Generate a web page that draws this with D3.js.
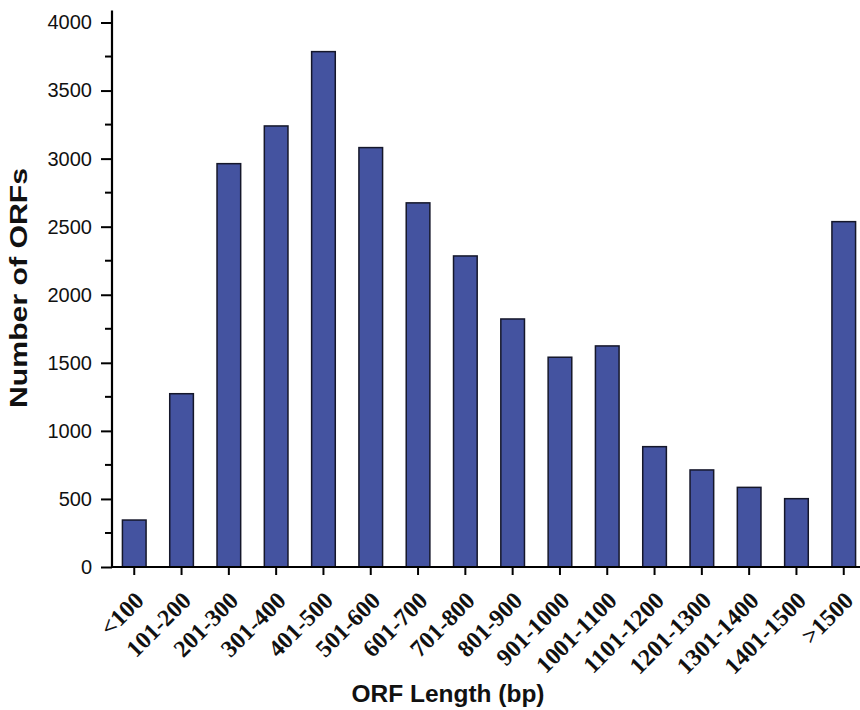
<!DOCTYPE html>
<html>
<head>
<meta charset="utf-8">
<script src="https://cdn.jsdelivr.net/npm/d3@7"></script>
<style>
  body { margin: 0; background: #fff; }
</style>
</head>
<body>
<div id="chart"></div>
<script>
// ORF length bins and counts
var categories = ["<100", "101-200", "201-300", "301-400", "401-500", "501-600", "601-700", "701-800",
  "801-900", "901-1000", "1001-1100", "1101-1200", "1201-1300", "1301-1400", "1401-1500", ">1500"];
var counts = [345, 1273, 2963, 3240, 3786, 3081, 2675, 2285, 1822, 1541, 1624, 884, 713, 585, 502, 2537];
var yTicks = [0, 500, 1000, 1500, 2000, 2500, 3000, 3500, 4000];
var yMinorTicks = [250, 750, 1250, 1750, 2250, 2750, 3250, 3750];

var data = categories.map(function (c, i) { return { bin: c, value: counts[i] }; });

var width = 860, height = 710;
var svg = d3.select("#chart")
  .append("svg")
  .attr("width", width)
  .attr("height", height);

var x = d3.scaleBand()
  .domain(categories)
  .range([110.6, 867.4])
  .paddingInner(0.5)
  .paddingOuter(0.25);

var y = d3.scaleLinear()
  .domain([0, 4000])
  .range([567, 22.5]);

// bars
svg.append("g")
  .selectAll("rect")
  .data(data)
  .enter()
  .append("rect")
  .attr("x", function (d) { return x(d.bin); })
  .attr("y", function (d) { return y(d.value); })
  .attr("width", x.bandwidth())
  .attr("height", function (d) { return y(0) - y(d.value); })
  .attr("fill", "#4453a0")
  .attr("stroke", "#15172a")
  .attr("stroke-width", 1.5);

// y axis
var yAxis = svg.append("g")
  .attr("transform", "translate(112,0)")
  .call(d3.axisLeft(y).tickValues(yTicks).tickFormat(d3.format("d"))
    .tickSize(11).tickPadding(9).tickSizeOuter(0));
yAxis.select(".domain").remove();
yAxis.selectAll(".tick line").attr("stroke", "#000").attr("stroke-width", 2);
yAxis.selectAll("text")
  .attr("font-family", "Liberation Sans, Arial, sans-serif")
  .attr("font-size", 20)
  .attr("fill", "#111");

svg.append("g")
  .attr("transform", "translate(112,0)")
  .selectAll("line")
  .data(yMinorTicks)
  .enter()
  .append("line")
  .attr("x1", -7).attr("x2", 0)
  .attr("y1", function (d) { return y(d); })
  .attr("y2", function (d) { return y(d); })
  .attr("stroke", "#000")
  .attr("stroke-width", 2);

svg.append("line")
  .attr("x1", 112).attr("x2", 112)
  .attr("y1", y(4000) - 12).attr("y2", y(0) + 1)
  .attr("stroke", "#000")
  .attr("stroke-width", 2.2);

// x axis
var xAxis = svg.append("g")
  .attr("transform", "translate(0,567)")
  .call(d3.axisBottom(x).tickSize(8).tickSizeOuter(0));
xAxis.select(".domain").remove();
xAxis.selectAll(".tick line").attr("stroke", "#000").attr("stroke-width", 2);
xAxis.selectAll("text")
  .attr("font-family", "Liberation Serif, Times New Roman, serif")
  .attr("font-weight", "bold")
  .attr("font-size", 24)
  .attr("fill", "#111")
  .attr("text-anchor", "end")
  .attr("x", 0)
  .attr("y", 0)
  .attr("dy", "0")
  .attr("transform", "translate(11,35) rotate(-45)");

svg.append("line")
  .attr("x1", 111).attr("x2", 860)
  .attr("y1", 567).attr("y2", 567)
  .attr("stroke", "#000")
  .attr("stroke-width", 2.2);

// axis titles
svg.append("text")
  .attr("x", 448)
  .attr("y", 702)
  .attr("text-anchor", "middle")
  .attr("font-family", "Liberation Sans, Arial, sans-serif")
  .attr("font-weight", "bold")
  .attr("font-size", 24)
  .attr("textLength", 193)
  .attr("lengthAdjust", "spacingAndGlyphs")
  .attr("fill", "#111")
  .text("ORF Length (bp)");

svg.append("text")
  .attr("transform", "translate(27,288) rotate(-90)")
  .attr("text-anchor", "middle")
  .attr("font-family", "Liberation Sans, Arial, sans-serif")
  .attr("font-weight", "bold")
  .attr("font-size", 24)
  .attr("textLength", 240)
  .attr("lengthAdjust", "spacingAndGlyphs")
  .attr("fill", "#111")
  .text("Number of ORFs");
</script>
</body>
</html>
